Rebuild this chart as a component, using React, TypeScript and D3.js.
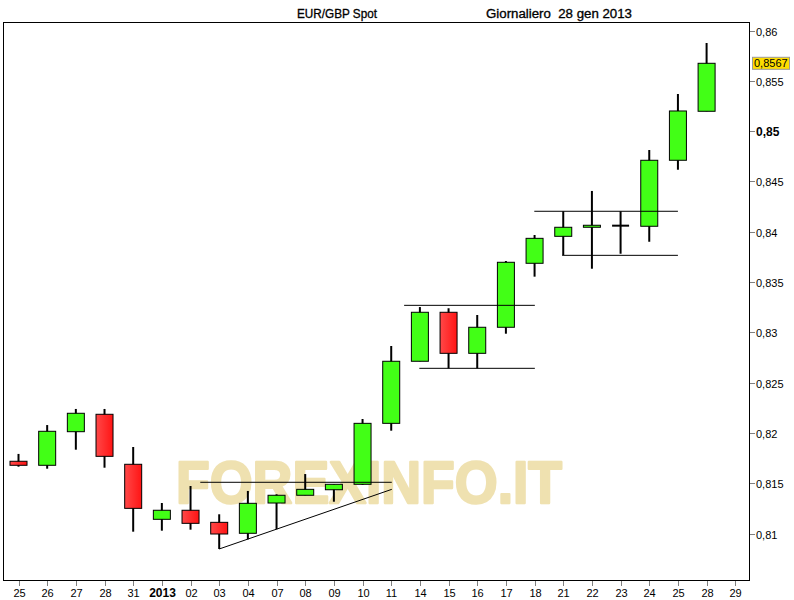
import React from "react";
import * as d3 from "d3";

const dates = [
  "2012-12-25", "2012-12-26", "2012-12-27", "2012-12-28", "2012-12-31",
  "2013-01-01", "2013-01-02", "2013-01-03", "2013-01-04", "2013-01-07",
  "2013-01-08", "2013-01-09", "2013-01-10", "2013-01-11", "2013-01-14",
  "2013-01-15", "2013-01-16", "2013-01-17", "2013-01-18", "2013-01-21",
  "2013-01-22", "2013-01-23", "2013-01-24", "2013-01-25", "2013-01-28",
  "2013-01-29",
];
const tickLabels = [
  "25", "26", "27", "28", "31", "2013", "02", "03", "04", "07", "08", "09",
  "10", "11", "14", "15", "16", "17", "18", "21", "22", "23", "24", "25",
  "28", "29",
];
const opens = [
  0.81718, 0.81678, 0.82012, 0.82185, 0.81688, 0.81141, 0.81231, 0.81111,
  0.81002, 0.81303, 0.8138, 0.81435, 0.81489, 0.82095, 0.82712, 0.83199,
  0.82791, 0.8305, 0.83686, 0.83954, 0.84044, 0.8406, 0.84054, 0.8471, 0.85197,
];
const highs = [
  0.81791, 0.82078, 0.82238, 0.82238, 0.8186, 0.81303, 0.81472, 0.81191,
  0.81423, 0.8139, 0.81591, 0.8149, 0.82138, 0.82864, 0.83251, 0.83239,
  0.83172, 0.83709, 0.83967, 0.84203, 0.84405, 0.84203, 0.84812, 0.85369,
  0.85876,
];
const lows = [
  0.81664, 0.81644, 0.81833, 0.81654, 0.81018, 0.81028, 0.81038, 0.80846,
  0.80942, 0.81042, 0.8138, 0.81316, 0.81482, 0.82022, 0.82712, 0.82642,
  0.82642, 0.82986, 0.83553, 0.83768, 0.83632, 0.83781, 0.839, 0.84616,
  0.85197,
];
const closes = [
  0.81678, 0.82016, 0.82195, 0.81767, 0.8125, 0.81231, 0.81101, 0.80995,
  0.813, 0.8138, 0.81439, 0.81489, 0.82095, 0.82712, 0.83199, 0.82791,
  0.8305, 0.83696, 0.83934, 0.84044, 0.84064, 0.8406, 0.8471, 0.852, 0.85674,
];
const yTicks = [0.81, 0.815, 0.82, 0.825, 0.83, 0.835, 0.84, 0.845, 0.85, 0.855, 0.86];
// annotation lines: [startIndex, startValue, endIndex, endValue]
const lineStarts = [6.34, 7.0, 13.45, 13.98, 17.99, 18.96];
const lineStartValues = [0.81509, 0.80846, 0.83268, 0.82642, 0.84203, 0.83765];
const lineEnds = [13.02, 13.02, 18.01, 18.01, 23.0, 23.0];
const lineEndValues = [0.81509, 0.81439, 0.83268, 0.82642, 0.84203, 0.83765];

const title1 = "EUR/GBP Spot";
const title2 = "Giornaliero  28 gen 2013";
const watermark = "FOREXINFO.IT";
const lastPrice = "0,8567";

export default function App() {
  const W = 794;
  const H = 600;
  const left = 3, right = 750, top = 22, bottom = 581;

  const x = d3.scaleBand<string>().domain(dates).range([4.17, 749.6]).padding(0);
  const step = x.step();
  const cx = (i: number) => (x(dates[0]) as number) + step / 2 + i * step;
  const y = d3.scaleLinear().domain([0.81, 0.86]).range([533.5, 30.5]);
  const bodyW = 17;
  const fmt = (v: number) => d3.format(".4~f")(v).replace(".", ",");

  const font = "'Liberation Sans', Arial, sans-serif";

  return (
    <svg
      width={W}
      height={H}
      style={{ position: "absolute", left: 0, top: 0, background: "#fff" }}
      fontFamily={font}
    >
      <defs>
        <linearGradient id="redg" x1="0" x2="1" y1="0" y2="0">
          <stop offset="0" stopColor="#ff4848" />
          <stop offset="1" stopColor="#ff1414" />
        </linearGradient>
        <clipPath id="plotclip">
          <rect x={left} y={top} width={right - left} height={bottom - top} />
        </clipPath>
      </defs>
      <rect x={0} y={0} width={W} height={H} fill="#fff" />

      {/* titles */}
      <text x={297} y={18} fontSize={12} fill="#000" stroke="#000" strokeWidth={0.3} textLength={80} lengthAdjust="spacingAndGlyphs">
        {title1}
      </text>
      <text x={486} y={18} fontSize={12} fill="#000" stroke="#000" strokeWidth={0.3} textLength={146} lengthAdjust="spacingAndGlyphs" style={{ whiteSpace: "pre" }}>
        {title2}
      </text>

      {/* watermark */}
      <text
        x={176}
        y={503}
        fontSize={60}
        fontWeight="bold"
        fill="#efe1b0"
        stroke="#efe1b0"
        strokeWidth={2.5}
        strokeLinejoin="round"
        textLength={386}
        lengthAdjust="spacingAndGlyphs"
      >
        {watermark}
      </text>

      {/* candles */}
      <g clipPath="url(#plotclip)">
        {opens.map((o, i) => {
          const c = closes[i];
          const up = c >= o;
          const yTop = y(Math.max(o, c));
          const yBot = y(Math.min(o, c));
          const xc = cx(i);
          const doji = Math.abs(c - o) < 1e-6;
          return (
            <g key={dates[i]}>
              <line x1={xc} x2={xc} y1={y(highs[i])} y2={y(lows[i])} stroke="#000" strokeWidth={2} />
              {doji ? (
                <line x1={xc - bodyW / 2} x2={xc + bodyW / 2} y1={yTop} y2={yTop} stroke="#000" strokeWidth={2} />
              ) : (
                <rect
                  x={xc - bodyW / 2}
                  y={yTop}
                  width={bodyW}
                  height={Math.max(1, yBot - yTop)}
                  fill={up ? "#42ff16" : "url(#redg)"}
                  stroke="#000"
                  strokeWidth={1}
                />
              )}
            </g>
          );
        })}

        {/* annotation lines */}
        {lineStarts.map((s, i) => (
          <line
            key={"ann" + i}
            x1={cx(s)}
            y1={y(lineStartValues[i])}
            x2={cx(lineEnds[i])}
            y2={y(lineEndValues[i])}
            stroke="#000"
            strokeWidth={1}
          />
        ))}
      </g>

      {/* frame */}
      <rect x={left + 0.5} y={top + 0.5} width={right - left - 1} height={bottom - top - 1} fill="none" stroke="#000" strokeWidth={1} />

      {/* y axis */}
      {yTicks.map((t) => {
        const yy = Math.round(y(t)) + 0.5;
        const bold = Math.abs(t - 0.85) < 1e-9;
        return (
          <g key={"y" + t}>
            <line x1={right} x2={right + 5} y1={yy} y2={yy} stroke="#808080" strokeWidth={1} />
            <text
              x={756}
              y={yy + 4}
              fontSize={bold ? 12 : 11}
              fontWeight={bold ? "bold" : "normal"}
              fill="#000"
            >
              {fmt(t)}
            </text>
          </g>
        );
      })}

      {/* last price label */}
      <rect x={752.5} y={y(0.85674) - 6} width={37} height={12} fill="#ffdd00" stroke="#9a9a9a" strokeWidth={1} />
      <text x={754} y={y(0.85674) + 4} fontSize={11} fill="#000">
        {lastPrice}
      </text>

      {/* x axis */}
      {dates.map((d, i) => {
        const xx = Math.round(cx(i)) + 0.5;
        const bold = tickLabels[i] === "2013";
        return (
          <g key={"x" + d}>
            <line x1={xx} x2={xx} y1={bottom} y2={bottom + 5} stroke="#808080" strokeWidth={1} />
            <text
              x={xx}
              y={597}
              textAnchor="middle"
              fontSize={bold ? 12 : 11}
              fontWeight={bold ? "bold" : "normal"}
              fill="#000"
            >
              {tickLabels[i]}
            </text>
          </g>
        );
      })}
    </svg>
  );
}
